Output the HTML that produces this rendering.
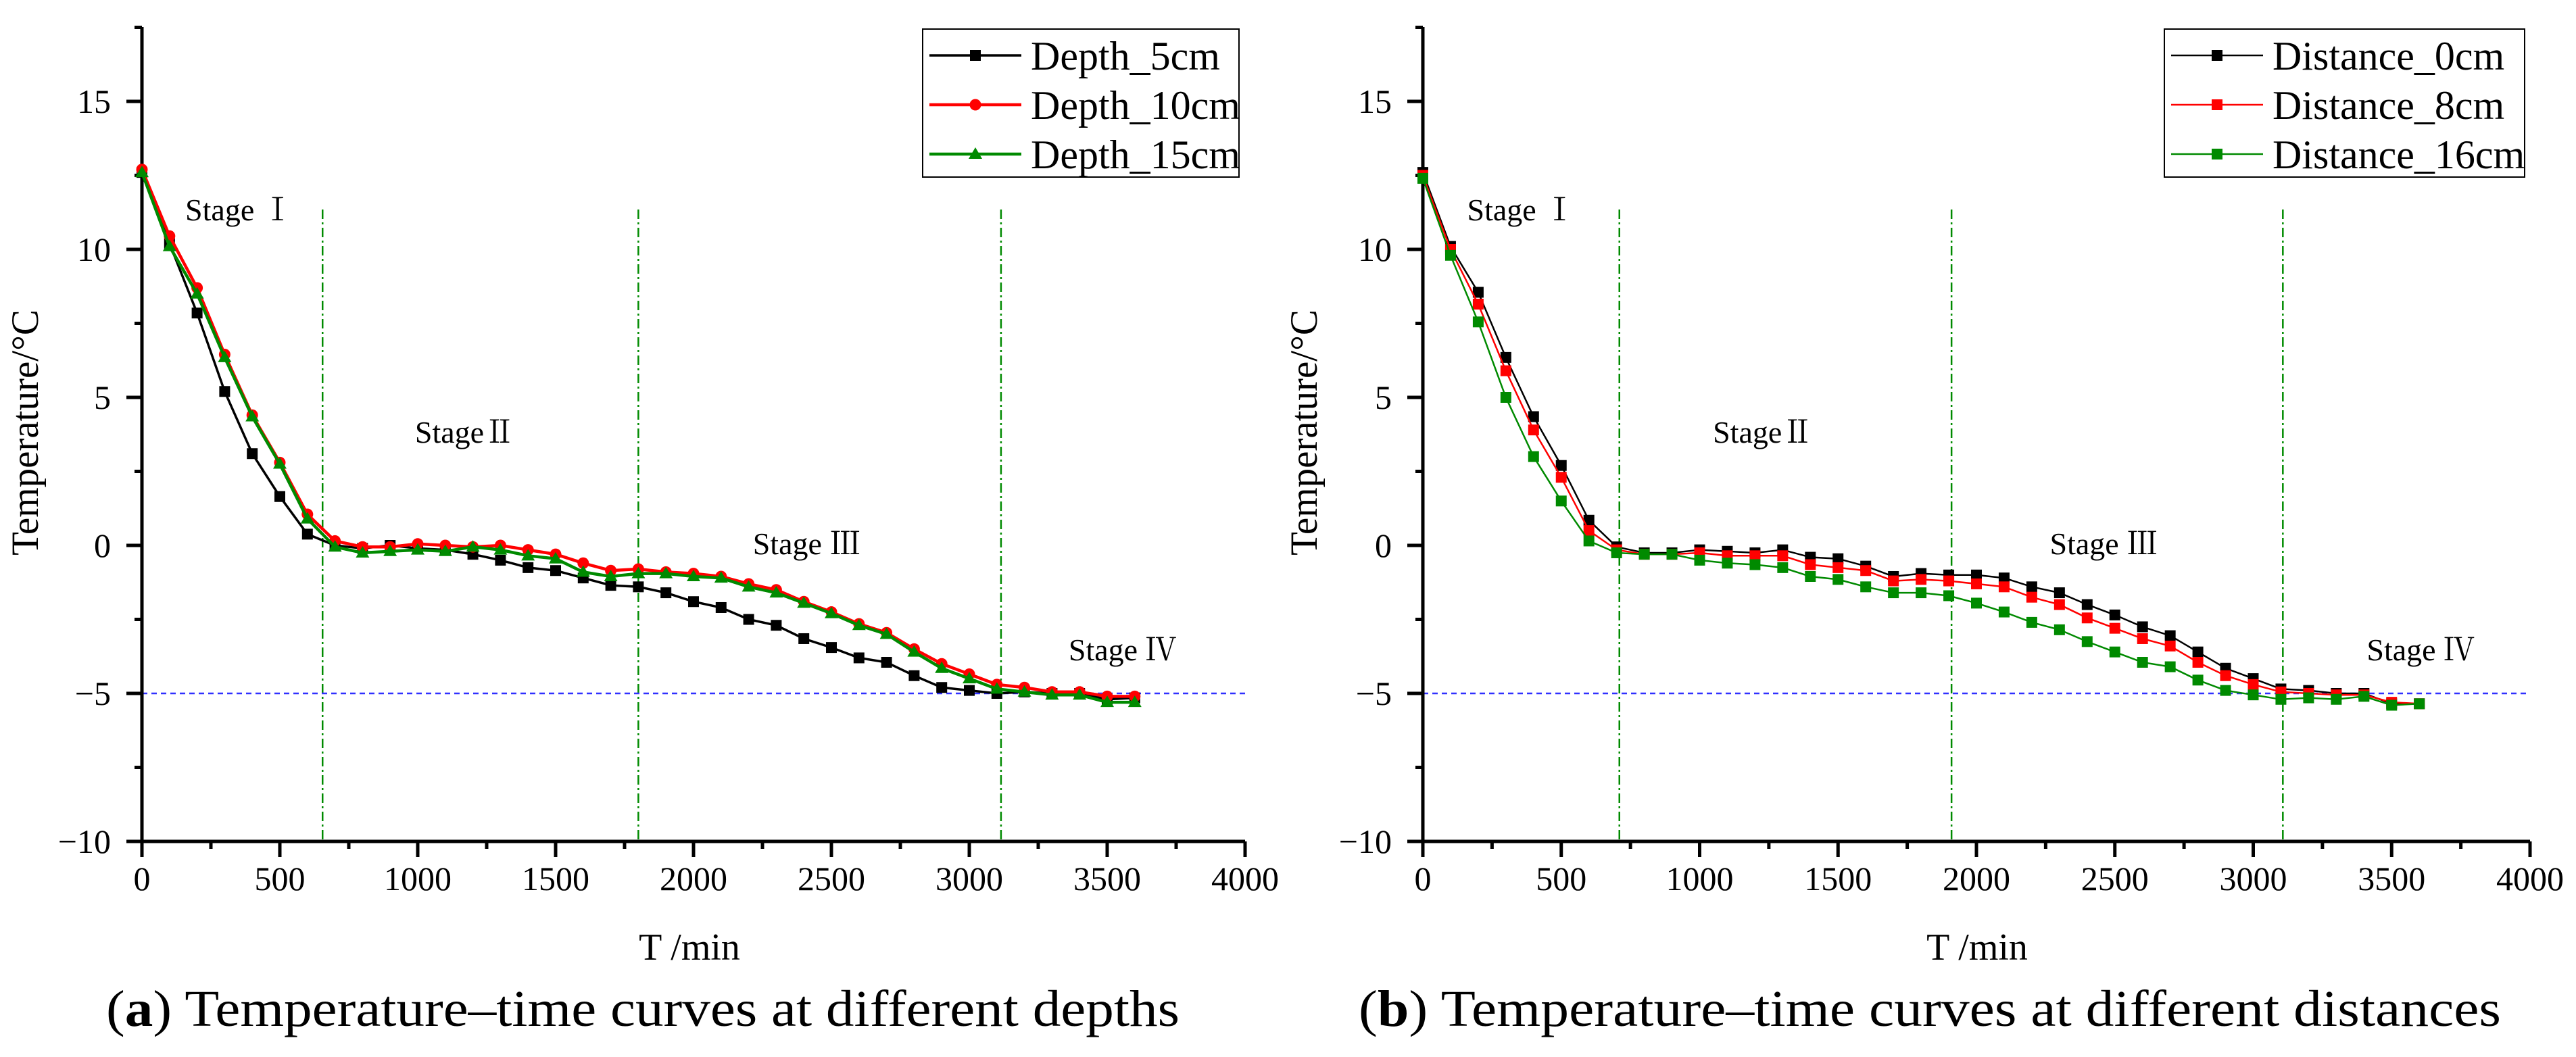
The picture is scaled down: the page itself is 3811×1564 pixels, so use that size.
<!DOCTYPE html>
<html><head><meta charset="utf-8"><style>
html,body{margin:0;padding:0;background:#fff;}
svg{display:block;font-family:"Liberation Serif","Noto Serif CJK SC",serif;}
text{font-family:"Liberation Serif","Noto Serif CJK SC",serif;fill:#000;}
</style></head><body>
<svg id="fig" width="3811" height="1564" viewBox="0 0 3811 1564" xmlns="http://www.w3.org/2000/svg" font-family="Liberation Serif, Noto Serif CJK SC, serif"></svg>
<script>
const xValues = [0,100,200,300,400,500,600,700,800,900,1000,1100,1200,1300,1400,1500,1600,1700,1800,1900,2000,2100,2200,2300,2400,2500,2600,2700,2800,2900,3000,3100,3200,3300,3400,3500,3600];
const depth5 = [12.6,10.2,7.85,5.2,3.1,1.65,0.38,0.0,-0.1,0.0,-0.1,-0.15,-0.3,-0.5,-0.75,-0.85,-1.1,-1.35,-1.4,-1.6,-1.9,-2.1,-2.5,-2.7,-3.15,-3.45,-3.8,-3.95,-4.4,-4.8,-4.9,-5.0,-4.95,-5.0,-5.0,-5.2,-5.15];
const depth10 = [12.7,10.45,8.7,6.45,4.4,2.8,1.05,0.15,-0.05,-0.05,0.05,0.0,-0.05,0.0,-0.15,-0.3,-0.6,-0.85,-0.8,-0.9,-0.95,-1.05,-1.3,-1.5,-1.9,-2.25,-2.65,-2.95,-3.5,-4.0,-4.35,-4.7,-4.8,-4.95,-4.95,-5.1,-5.1];
const depth15 = [12.6,10.1,8.5,6.35,4.35,2.75,0.9,-0.05,-0.25,-0.2,-0.15,-0.2,-0.05,-0.15,-0.35,-0.45,-0.9,-1.05,-0.95,-0.95,-1.05,-1.1,-1.4,-1.6,-1.95,-2.3,-2.7,-3.0,-3.6,-4.15,-4.5,-4.85,-4.95,-5.05,-5.05,-5.3,-5.3];
const dist0 = [12.6,10.1,8.55,6.35,4.35,2.7,0.85,-0.05,-0.25,-0.25,-0.15,-0.2,-0.25,-0.15,-0.4,-0.45,-0.7,-1.05,-0.95,-1.0,-1.0,-1.1,-1.4,-1.6,-2.0,-2.35,-2.75,-3.05,-3.6,-4.15,-4.5,-4.85,-4.9,-5.0,-5.0,-5.35,-5.35];
const dist8 = [12.5,10.0,8.15,5.9,3.9,2.3,0.5,-0.15,-0.3,-0.3,-0.25,-0.35,-0.35,-0.35,-0.65,-0.75,-0.85,-1.2,-1.15,-1.2,-1.3,-1.4,-1.75,-2.0,-2.45,-2.8,-3.15,-3.4,-3.95,-4.4,-4.7,-4.95,-5.0,-5.05,-5.05,-5.3,-5.35];
const dist16 = [12.4,9.8,7.55,5.0,3.0,1.5,0.15,-0.25,-0.3,-0.3,-0.5,-0.6,-0.65,-0.75,-1.05,-1.15,-1.4,-1.6,-1.6,-1.7,-1.95,-2.25,-2.6,-2.85,-3.25,-3.6,-3.95,-4.1,-4.55,-4.9,-5.05,-5.2,-5.15,-5.2,-5.1,-5.4,-5.35];
const xTicks = [0,500,1000,1500,2000,2500,3000,3500,4000];
const yTicks = [-10,-5,0,5,10,15];
const stageLinesA = [655,1800,3115];
const stageLinesB = [710,1910,3107];
const stageLabels = ["Stage Ⅰ","StageⅡ","Stage Ⅲ","Stage Ⅳ"];

const NS="http://www.w3.org/2000/svg";
const FONT='"Liberation Serif","Noto Serif CJK SC",serif';
const svg=document.getElementById('fig');
function mk(tag,attrs,parent,text){const e=document.createElementNS(NS,tag);for(const k in attrs)e.setAttribute(k,attrs[k]);if(tag==='text')e.style.fontFamily=FONT;if(text!==undefined)e.textContent=text;(parent||svg).appendChild(e);return e;}

function drawChart(cfg){
  const g=mk('g',{});
  
  
  const X=v=>cfg.x0+(v-0)/4000*(cfg.x1-cfg.x0);
  const Y=v=>cfg.yBase-(v-(-10))*43.8;
  const yTop=40, yBot=Y(-10);
  cfg.stages.forEach(s=>{
    const l=mk('line',{x1:X(s),x2:X(s),y1:310,y2:yBot,stroke:'#008a00','stroke-width':2.5,'stroke-dasharray':'14 5 3 5'},g);
    
    
  });
  const ref=mk('line',{x1:X(0),x2:X(4000),y1:Y(-5),y2:Y(-5),stroke:'#3030ff','stroke-width':2.5,'stroke-dasharray':'8 6'},g);
  
  
  const ax=mk('path',{d:`M${X(0)},${yTop} V${yBot} H${X(4000)}`,fill:'none',stroke:'#000','stroke-width':5},g);
  
  
  for(let v=0;v<=4000;v+=250){
    const major=v%500===0;
    mk('line',{x1:X(v),x2:X(v),y1:yBot,y2:yBot+(major?23:11),stroke:'#000','stroke-width':5},g);
  }
  xTicks.forEach(v=>{
    const t=mk('text',{x:X(v),y:yBot+72,'text-anchor':'middle','font-size':50},g,String(v));
    
    
  });
  for(let v=-10;v<=17.5;v+=2.5){
    const major=v%5===0;
    mk('line',{x1:X(0),x2:X(0)-(major?23:11),y1:Y(v),y2:Y(v),stroke:'#000','stroke-width':5},g);
  }
  yTicks.forEach(v=>{
    const t=mk('text',{x:X(0)-46,y:Y(v)+17,'text-anchor':'end','font-size':50},g,v<0?'\u2212'+Math.abs(v):String(v));
    
    
  });
  const xt=mk('text',{x:cfg.xTitleX,y:1420,'text-anchor':'middle','font-size':56},g,'T /min');
  
  
  const yt=mk('text',{x:0,y:0,'text-anchor':'middle','font-size':57,transform:`translate(${cfg.yTitleX},640) rotate(-90)`},g,'Temperature/°C');
  
  
  cfg.stagePos.forEach((p,i)=>{
    const t=mk('text',{x:X(p[0]),y:p[1],'font-size':46,fill:'#222'},g,stageLabels[i]);
    
    
  });
  cfg.series.forEach(s=>{
    const sg=mk('g',{},g);
    
    
    const pts=xValues.map((x,i)=>X(x).toFixed(1)+','+Y(s.data[i]).toFixed(1)).join(' ');
    mk('polyline',{points:pts,fill:'none',stroke:s.color,'stroke-width':s.w},sg);
    xValues.forEach((x,i)=>marker(sg,s.marker,X(x),Y(s.data[i]),s.color));
  });
  const lg=mk('g',{},g);
  
  
  mk('rect',{x:cfg.leg[0],y:43,width:cfg.leg[1],height:219,fill:'#fff',stroke:'#000','stroke-width':2},lg);
  cfg.series.forEach((s,i)=>{
    const yy=82+i*73;
    const e=mk('g',{},lg);
    
    
    mk('line',{x1:cfg.leg[0]+10,x2:cfg.leg[0]+146,y1:yy,y2:yy,stroke:s.color,'stroke-width':s.w},e);
    marker(e,s.marker,cfg.leg[0]+78,yy,s.color);
    mk('text',{x:cfg.leg[0]+160,y:yy+21,'font-size':60},e,s.label);
  });
  const cap=mk('text',{x:cfg.capX,y:1518,'font-size':76,textLength:cfg.capW,lengthAdjust:'spacingAndGlyphs'},g);
  
  
  mk('tspan',{},cap,'(');
  mk('tspan',{'font-weight':'bold'},cap,cfg.letter);
  mk('tspan',{},cap,') '+cfg.caption);
}
function marker(p,type,x,y,c){
  if(type==='sq') mk('rect',{x:x-8,y:y-8,width:16,height:16,fill:c},p);
  else if(type==='ci') mk('circle',{cx:x,cy:y,r:8.5,fill:c},p);
  else mk('polygon',{points:`${x},${y-10} ${x+10},${y+7} ${x-10},${y+7}`,fill:c},p);
}

drawChart({name:'chart-a-depths',x0:210,x1:1842,yBase:1245,stages:stageLinesA,xTitleX:1020,yTitleX:56,
  stagePos:[[157,326],[990,655],[2215,820],[3360,977]],
  leg:[1365,468],capX:157,capW:1588,letter:'a',caption:'Temperature–time curves at different depths',
  series:[{name:'series-depth-5cm',label:'Depth_5cm',data:depth5,color:'#000',marker:'sq',w:3.5},
          {name:'series-depth-10cm',label:'Depth_10cm',data:depth10,color:'#f00',marker:'ci',w:4.5},
          {name:'series-depth-15cm',label:'Depth_15cm',data:depth15,color:'#008a00',marker:'tri',w:4.5}]});
drawChart({name:'chart-b-distances',x0:2105,x1:3743,yBase:1245,stages:stageLinesB,xTitleX:2925,yTitleX:1948,
  stagePos:[[160,326],[1048,655],[2265,820],[3410,977]],
  leg:[3202,533],capX:2010,capW:1690,letter:'b',caption:'Temperature–time curves at different distances',
  series:[{name:'series-distance-0cm',label:'Distance_0cm',data:dist0,color:'#000',marker:'sq',w:2.5},
          {name:'series-distance-8cm',label:'Distance_8cm',data:dist8,color:'#f00',marker:'sq',w:2.5},
          {name:'series-distance-16cm',label:'Distance_16cm',data:dist16,color:'#008a00',marker:'sq',w:2.5}]});
</script>
</body></html>
